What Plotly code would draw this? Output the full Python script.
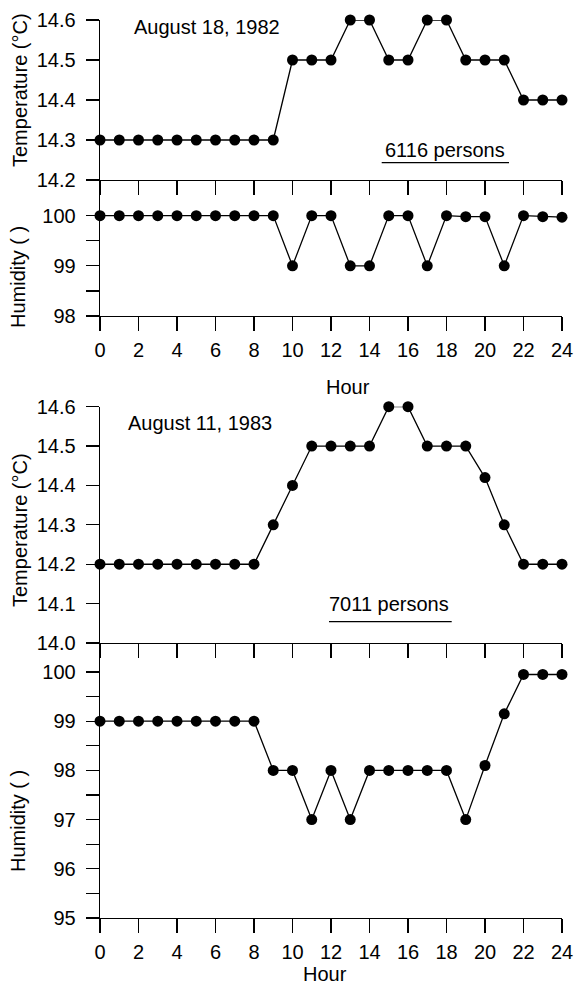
import plotly.graph_objects as go

hours = list(range(25))

temp_1982 = [14.3, 14.3, 14.3, 14.3, 14.3, 14.3, 14.3, 14.3, 14.3, 14.3,
             14.5, 14.5, 14.5, 14.6, 14.6, 14.5, 14.5, 14.6, 14.6,
             14.5, 14.5, 14.5, 14.4, 14.4, 14.4]
hum_1982 = [100, 100, 100, 100, 100, 100, 100, 100, 100, 100,
            99, 100, 100, 99, 99, 100, 100, 99, 100, 99.98, 99.98, 99, 100, 99.98, 99.97]

temp_1983 = [14.2, 14.2, 14.2, 14.2, 14.2, 14.2, 14.2, 14.2, 14.2,
             14.3, 14.4, 14.5, 14.5, 14.5, 14.5, 14.6, 14.6,
             14.5, 14.5, 14.5, 14.42, 14.3, 14.2, 14.2, 14.2]
hum_1983 = [99, 99, 99, 99, 99, 99, 99, 99, 99,
            98, 98, 97, 98, 97, 98, 98, 98, 98, 98, 97, 98.1, 99.15, 99.95, 99.95, 99.95]

x_ticks = list(range(0, 25, 2))
t1_ticks = [14.2, 14.3, 14.4, 14.5, 14.6]
t1_labels = ["14.2", "14.3", "14.4", "14.5", "14.6"]
h1_ticks = [98, 98.5, 99, 99.5, 100]
h1_labels = ["98", "", "99", "", "100"]
t2_ticks = [14.0, 14.1, 14.2, 14.3, 14.4, 14.5, 14.6]
t2_labels = ["14.0", "14.1", "14.2", "14.3", "14.4", "14.5", "14.6"]
h2_ticks = [95, 95.5, 96, 96.5, 97, 97.5, 98, 98.5, 99, 99.5, 100]
h2_labels = ["95", "", "96", "", "97", "", "98", "", "99", "", "100"]

W, H = 574, 989
L, R, T, B = 100, 12, 20, 71
PW, PH = W - L - R, H - T - B


def py(p):
    return (H - B - p) / PH


def px(p):
    return (p - L) / PW


FONT = "Liberation Sans, Arial, Helvetica, sans-serif"
fig = go.Figure()

series = [(temp_1982, "x", "y"), (hum_1982, "x2", "y2"),
          (temp_1983, "x3", "y3"), (hum_1983, "x4", "y4")]
for vals, xa, ya in series:
    fig.add_trace(go.Scatter(
        x=hours, y=vals, xaxis=xa, yaxis=ya, mode="lines+markers",
        line=dict(color="black", width=1.3),
        marker=dict(color="black", size=11),
        showlegend=False, cliponaxis=False, hoverinfo="skip"))

common_x = dict(range=[0, 24], showline=True, linecolor="black", linewidth=1.3,
                ticks="outside", ticklen=14, tickwidth=1.3, tickcolor="black",
                tickvals=x_ticks, showgrid=False, zeroline=False, automargin=False,
                tickfont=dict(size=20, color="black", family=FONT),
                ticklabelstandoff=2, ticklabeloverflow="allow")
common_y = dict(showline=True, linecolor="black", linewidth=1.3,
                ticks="outside", ticklen=13, tickwidth=1.3, tickcolor="black",
                showgrid=False, zeroline=False, automargin=False,
                tickfont=dict(size=20, color="black", family=FONT),
                ticklabelstandoff=6, ticklabeloverflow="allow")

d1 = [py(180), 1.0]
d2 = [py(316), py(180)]
d3 = [py(643), py(406.7)]
d4 = [0.0, py(643)]

fig.update_layout(
    template="none",
    width=W, height=H,
    margin=dict(l=L, r=R, t=T, b=B, autoexpand=False),
    paper_bgcolor="white", plot_bgcolor="white",
    font=dict(family=FONT, size=20, color="black"),
    xaxis=dict(common_x, anchor="y", showticklabels=False),
    yaxis=dict(common_y, domain=d1, range=[14.2, 14.6], tickvals=t1_ticks,
               ticktext=t1_labels, anchor="x"),
    xaxis2=dict(common_x, anchor="y2", showticklabels=True),
    yaxis2=dict(common_y, domain=d2, range=[98, 100.71], tickvals=h1_ticks,
                ticktext=h1_labels, anchor="x2"),
    xaxis3=dict(common_x, anchor="y3", showticklabels=False),
    yaxis3=dict(common_y, domain=d3, range=[14.0, 14.6], tickvals=t2_ticks,
                ticktext=t2_labels, anchor="x3"),
    xaxis4=dict(common_x, anchor="y4", showticklabels=True),
    yaxis4=dict(common_y, domain=d4, range=[95, 100.59], tickvals=h2_ticks,
                ticktext=h2_labels, anchor="x4"),
)

annots = [
    ("August 18, 1982", 206.5, 27.5, 0),
    ("6116 persons", 445, 150, 0),
    ("August 11, 1983", 200, 423, 0),
    ("7011 persons", 389, 604, 0),
    ("Hour", 348, 387, 0),
    ("Hour", 325, 974, 0),
    ("Temperature (°C)", 20, 90, -90),
    ("Humidity ( )", 18, 277, -90),
    ("Temperature (°C)", 20, 530, -90),
    ("Humidity ( )", 18, 821, -90),
]
for text, ax_, ay_, ang in annots:
    fig.add_annotation(text=text, xref="paper", yref="paper",
                       x=px(ax_), y=py(ay_), xanchor="center", yanchor="middle",
                       showarrow=False, textangle=ang,
                       font=dict(size=20, color="black", family=FONT))

# underlines below the person counts
for x0, x1, yy in [(381.7, 509, 162.7), (329, 451.7, 621.7)]:
    fig.add_shape(type="line", xref="paper", yref="paper",
                  x0=px(x0), x1=px(x1), y0=py(yy), y1=py(yy),
                  line=dict(color="black", width=1.2))

fig.write_html("out.html", config={"displayModeBar": False, "staticPlot": True},
               post_script="document.body.style.margin='0';"
                           "document.body.style.overflow='hidden';")
